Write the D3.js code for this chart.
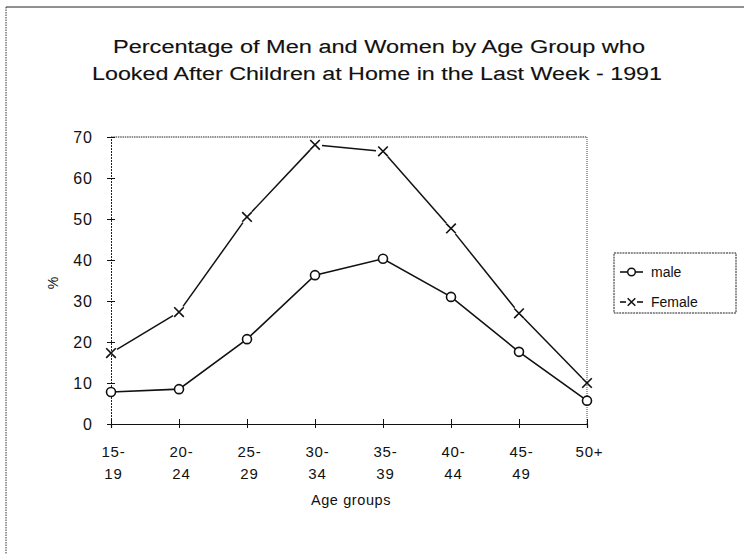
<!DOCTYPE html>
<html>
<head>
<meta charset="utf-8">
<script src="https://cdn.jsdelivr.net/npm/d3@7"></script>
<style>
  html, body { margin: 0; padding: 0; background: #fff; }
  svg { display: block; font-family: "Liberation Sans", Arial, Helvetica, sans-serif; }
</style>
</head>
<body>
<svg id="chart" width="744" height="554"></svg>
<script>
// ---- data ----
const categories = ["15-19", "20-24", "25-29", "30-34", "35-39", "40-44", "45-49", "50+"];
const tickLine1 = ["15-", "20-", "25-", "30-", "35-", "40-", "45-", "50+"];
const tickLine2 = ["19", "24", "29", "34", "39", "44", "49", ""];
const maleValues = [7.8, 8.5, 20.7, 36.3, 40.3, 31.0, 17.6, 5.7];
const femaleValues = [17.3, 27.3, 50.5, 68.1, 66.5, 47.7, 27.0, 10.0];
const yTicks = [0, 10, 20, 30, 40, 50, 60, 70];
const seriesNames = ["male", "Female"];
const titleLines = ["Percentage of Men and Women by Age Group who",
                    "Looked After Children at Home in the Last Week - 1991"];

// ---- layout ----
const L = 111, R = 587, T = 137, B = 424;
const svg = d3.select("#chart");

const x = d3.scalePoint().domain(categories).range([L, R]);
const y = d3.scaleLinear().domain([0, 70]).range([B, T]);

// outer frame
svg.append("line").attr("x1", 6).attr("x2", 744).attr("y1", 7).attr("y2", 7)
  .attr("stroke", "#222").attr("stroke-width", 1.2);
svg.append("line").attr("x1", 6).attr("x2", 6).attr("y1", 7).attr("y2", 554)
  .attr("stroke", "#333").attr("stroke-width", 1).attr("stroke-dasharray", "1.5,1");

// title
const title = svg.append("g");
title.append("text").attr("x", 379).attr("y", 53).attr("text-anchor", "middle")
  .attr("font-size", 18).attr("fill", "#111").attr("stroke", "#111").attr("stroke-width", 0.12)
  .attr("textLength", 532).attr("lengthAdjust", "spacingAndGlyphs").text(titleLines[0]);
title.append("text").attr("x", 377).attr("y", 80).attr("text-anchor", "middle")
  .attr("font-size", 18).attr("fill", "#111").attr("stroke", "#111").attr("stroke-width", 0.12)
  .attr("textLength", 570).attr("lengthAdjust", "spacingAndGlyphs").text(titleLines[1]);

// plot frame (top and right dotted)
svg.append("line").attr("x1", L).attr("x2", R).attr("y1", T).attr("y2", T)
  .attr("stroke", "#222").attr("stroke-width", 1).attr("stroke-dasharray", "1.5,0.8");
svg.append("line").attr("x1", R).attr("x2", R).attr("y1", T).attr("y2", B)
  .attr("stroke", "#444").attr("stroke-width", 1).attr("stroke-dasharray", "1,1");

// y axis
const yAxis = svg.append("g").attr("transform", `translate(${L},0)`)
  .call(d3.axisLeft(y).tickValues(yTicks).tickSize(4).tickPadding(14));
yAxis.select(".domain").attr("stroke", "#222").attr("stroke-dasharray", "2,1");
yAxis.selectAll(".tick line").attr("x1", -4).attr("x2", 4).attr("stroke", "#111");
yAxis.selectAll(".tick text").attr("font-size", 16).attr("fill", "#111")
  .attr("letter-spacing", 1)
  .attr("font-family", "Liberation Sans, Arial, sans-serif");

// x axis
const xAxis = svg.append("g").attr("transform", `translate(0,${B})`)
  .call(d3.axisBottom(x).tickSize(4).tickFormat(""));
xAxis.select(".domain").attr("stroke", "#111").attr("stroke-width", 1.2);
xAxis.selectAll(".tick line").attr("y1", -5).attr("y2", 4).attr("stroke", "#111");
xAxis.selectAll(".tick").each(function(d, i) {
  const g = d3.select(this);
  g.select("text").remove();
  g.append("text").attr("x", 2).attr("y", 33).attr("text-anchor", "middle").attr("font-size", 15)
    .attr("fill", "#111").attr("font-family", "Liberation Sans, Arial, sans-serif")
    .attr("letter-spacing", 0.8).text(tickLine1[i]);
  g.append("text").attr("x", 2).attr("y", 55).attr("text-anchor", "middle").attr("font-size", 15)
    .attr("fill", "#111").attr("font-family", "Liberation Sans, Arial, sans-serif")
    .attr("letter-spacing", 0.8).text(tickLine2[i]);
});

// axis titles
svg.append("text").attr("transform", "translate(58,283) rotate(-90)")
  .attr("text-anchor", "middle").attr("font-size", 14).attr("fill", "#111").text("%");
svg.append("text").attr("x", 351).attr("y", 505).attr("text-anchor", "middle")
  .attr("font-size", 14.5).attr("fill", "#111").attr("letter-spacing", 0.6).text("Age groups");

// male line
const line = d3.line().x((d, i) => x(categories[i])).y(d => y(d));
svg.append("path").datum(maleValues).attr("d", line)
  .attr("fill", "none").attr("stroke", "#111").attr("stroke-width", 1.6);

// female line with gaps near markers
const gap = 7;
const segs = d3.pairs(femaleValues.map((v, i) => [x(categories[i]), y(v)]));
const segLine = d3.line();
svg.append("g").selectAll("path").data(segs).join("path")
  .attr("d", ([a, b]) => {
    const dx = b[0] - a[0], dy = b[1] - a[1], len = Math.hypot(dx, dy);
    const ux = dx / len, uy = dy / len;
    return segLine([[a[0] + ux * gap, a[1] + uy * gap], [b[0] - ux * gap, b[1] - uy * gap]]);
  })
  .attr("fill", "none").attr("stroke", "#111").attr("stroke-width", 1.5);

// markers
svg.append("g").selectAll("circle").data(maleValues).join("circle")
  .attr("cx", (d, i) => x(categories[i])).attr("cy", d => y(d)).attr("r", 4.5)
  .attr("fill", "#fff").attr("stroke", "#111").attr("stroke-width", 1.6);

const xMark = (cx, cy, s) => `M${cx - s},${cy - s}L${cx + s},${cy + s}M${cx - s},${cy + s}L${cx + s},${cy - s}`;
svg.append("g").selectAll("path").data(femaleValues).join("path")
  .attr("d", (d, i) => xMark(x(categories[i]), y(d), 4.8))
  .attr("fill", "none").attr("stroke", "#111").attr("stroke-width", 1.6);

// legend
const lg = svg.append("g");
lg.append("rect").attr("x", 614).attr("y", 253).attr("width", 122).attr("height", 60)
  .attr("fill", "#fff").attr("stroke", "#222").attr("stroke-width", 1).attr("stroke-dasharray", "2,0.8");
// male entry
lg.append("line").attr("x1", 620).attr("x2", 643).attr("y1", 272).attr("y2", 272)
  .attr("stroke", "#111").attr("stroke-width", 1.6);
lg.append("circle").attr("cx", 631.5).attr("cy", 272).attr("r", 3.8)
  .attr("fill", "#fff").attr("stroke", "#111").attr("stroke-width", 1.5);
lg.append("text").attr("x", 651).attr("y", 277).attr("font-size", 14).attr("fill", "#111").text(seriesNames[0]);
// female entry
lg.append("line").attr("x1", 620).attr("x2", 626).attr("y1", 302).attr("y2", 302)
  .attr("stroke", "#111").attr("stroke-width", 1.6);
lg.append("line").attr("x1", 637).attr("x2", 643).attr("y1", 302).attr("y2", 302)
  .attr("stroke", "#111").attr("stroke-width", 1.6);
lg.append("path").attr("d", xMark(631.5, 302, 3.8))
  .attr("fill", "none").attr("stroke", "#111").attr("stroke-width", 1.5);
lg.append("text").attr("x", 651).attr("y", 307).attr("font-size", 14).attr("fill", "#111").text(seriesNames[1]);
</script>
</body>
</html>
